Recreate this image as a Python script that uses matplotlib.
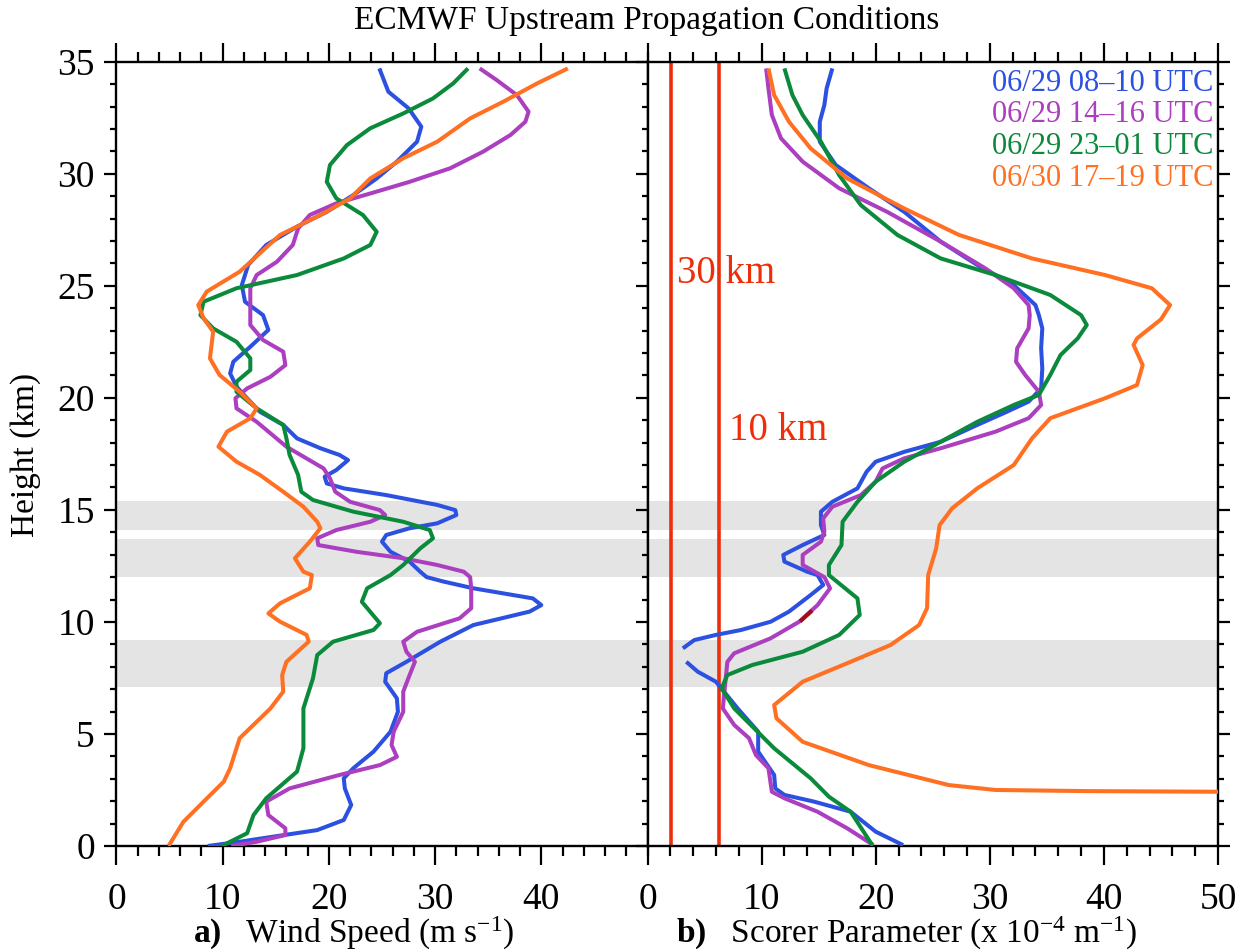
import numpy as np
import matplotlib
matplotlib.use('Agg')
import matplotlib.pyplot as plt
from matplotlib.ticker import MultipleLocator

plt.rcParams['font.family'] = 'Liberation Serif'
plt.rcParams['mathtext.fontset'] = 'custom'
plt.rcParams['mathtext.rm'] = 'Liberation Serif'
plt.rcParams['mathtext.it'] = 'Liberation Serif:italic'
plt.rcParams['mathtext.bf'] = 'Liberation Serif:bold'

labels = ['06/29 08\u201310 UTC', '06/29 14\u201316 UTC',
          '06/29 23\u201301 UTC', '06/30 17\u201319 UTC']
colors = ['#2c50e0', '#ab3fc0', '#0b8a3c', '#ff7022']

# wind speed profiles (m/s) vs height (km)
ws_blue_h = [0.0, 0.19, 0.42, 0.71, 1.16, 1.83, 2.57, 3.02, 3.47, 4.21, 5.10, 5.99, 6.59, 7.33, 7.71,
             8.22, 9.12, 9.86, 10.46, 10.75, 11.05, 11.50, 11.80, 12.0, 12.24, 12.69, 13.13, 13.58,
             13.88, 14.18, 14.40, 14.77, 14.99, 15.22, 15.66, 15.96, 16.18, 16.48, 16.78, 17.22,
             17.45, 17.75, 18.19, 18.79, 19.38, 19.98, 20.50, 21.09, 21.61, 22.28, 23.03, 23.69,
             24.29, 25.03, 25.93, 26.82, 27.64, 28.30, 29.05, 29.79, 30.54, 31.43, 32.10, 32.92,
             33.66, 34.70]
ws_blue = [8.6, 11.6, 14.8, 18.9, 21.4, 22.1, 21.5, 21.4, 22.3, 24.2, 25.8, 26.5, 26.4, 25.3, 25.4,
           27.3, 30.5, 33.6, 38.9, 40.0, 39.2, 33.6, 30.8, 29.2, 28.6, 27.6, 25.8, 25.0,
           25.4, 27.6, 30.2, 32.0, 31.9, 30.2, 25.4, 21.4, 19.8, 19.6, 20.7, 21.8,
           21.0, 19.2, 17.0, 15.7, 13.5, 12.3, 11.3, 10.7, 11.0, 12.6, 14.3, 13.8,
           12.1, 11.8, 12.4, 14.1, 17.0, 19.8, 22.3, 24.5, 26.4, 28.3, 28.7, 27.5,
           25.6, 24.75]

ws_purple_h = [0.0, 0.19, 0.49, 0.79, 1.38, 1.98, 2.57, 3.17, 3.61, 3.98, 4.51, 5.10, 5.99, 6.89,
               7.63, 8.22, 8.67, 9.12, 9.56, 10.16, 10.61, 11.50, 12.0, 12.24, 12.54, 12.84, 13.13,
               13.43, 13.73, 14.10, 14.47, 14.77, 14.99, 15.36, 15.81, 16.41, 16.85, 17.82, 18.93,
               19.53, 19.98, 20.42, 20.94, 21.46, 22.06, 22.58, 23.25, 23.99, 24.89, 25.48, 26.07,
               26.82, 27.56, 28.16, 28.68, 29.12, 29.64, 30.24, 30.98, 31.73, 32.32, 32.77, 33.51,
               34.18, 34.70]
ws_purple = [10.8, 13.2, 15.9, 15.9, 14.3, 14.1, 16.3, 21.0, 24.8, 26.4, 25.9, 26.1, 27.0, 27.0,
             27.6, 28.1, 27.3, 27.0, 28.3, 32.3, 33.4, 33.4, 33.3, 32.7, 30.2, 27.0, 22.6,
             19.0, 18.9, 20.7, 23.9, 25.3, 24.8, 22.0, 20.6, 20.1, 19.5, 16.0, 13.2,
             11.3, 11.2, 12.3, 14.5, 15.9, 15.7, 13.8, 12.6, 12.6, 12.6, 13.2, 15.1,
             16.6, 17.1, 18.2, 20.7, 23.9, 27.6, 31.4, 34.5, 37.1, 38.5, 38.8, 37.7,
             35.8, 34.2]

ws_green_h = [0.0, 0.57, 1.38, 2.13, 3.32, 4.36, 6.14, 7.48, 8.52, 9.12, 9.64, 9.94, 10.90, 11.50,
              12.09, 12.54, 13.28, 13.73, 14.10, 14.47, 14.92, 15.44, 15.81, 16.56, 17.45, 18.19,
              18.79, 19.53, 20.27, 20.72, 21.24, 21.76, 22.50, 23.10, 23.69, 24.29, 24.89, 25.48,
              26.22, 26.82, 27.41, 28.16, 28.90, 29.64, 30.39, 31.28, 32.03, 32.69, 33.36, 34.03,
              34.70]
ws_green = [9.9, 12.3, 12.9, 14.1, 17.0, 17.6, 17.6, 18.5, 18.9, 20.4, 24.2, 24.8, 23.1, 23.6,
            25.8, 27.0, 28.6, 29.8, 29.5, 27.0, 22.3, 18.5, 17.4, 17.1, 16.3, 16.0,
            15.7, 13.2, 11.3, 11.3, 12.6, 12.6, 11.3, 9.1, 7.9, 8.2, 11.3, 17.0,
            21.4, 23.9, 24.5, 23.2, 20.7, 19.8, 20.1, 21.7, 23.9, 27.0, 29.8, 31.7,
            33.1]

ws_orange_h = [0.0, 1.08, 1.98, 2.87, 3.47, 4.81, 6.14, 6.89, 7.63, 8.22, 9.12, 9.42, 10.01, 10.38,
               10.83, 11.50, 12.09, 12.24, 12.84, 13.58, 14.18, 14.47, 15.14, 15.81, 16.56, 17.15,
               17.82, 18.49, 19.09, 19.53, 20.27, 21.02, 21.76, 22.95, 23.55, 24.14, 24.74, 25.63,
               27.27, 28.16, 28.90, 29.79, 30.69, 31.43, 32.47, 33.21, 34.03, 34.70]
ws_orange = [4.9, 6.3, 8.2, 10.1, 10.7, 11.6, 14.5, 15.7, 15.6, 16.0, 18.1, 17.9, 15.4, 14.3,
             15.4, 18.2, 18.4, 17.6, 16.8, 18.2, 19.2, 18.9, 17.6, 15.7, 13.5, 11.3,
             9.6, 10.4, 12.6, 13.2, 11.6, 9.7, 8.8, 9.1, 8.2, 7.7, 8.5, 11.6,
             15.4, 19.2, 22.0, 23.9, 27.0, 30.2, 33.3, 36.4, 39.6, 42.5]

# Scorer parameter profiles (1e-4 1/m) vs height (km)
sc_blue_h = [0.04, 0.64, 1.53, 1.98, 2.28, 2.57, 3.17, 4.21, 5.10, 6.14, 7.33, 7.78, 8.22, 8.5,
             8.82, 9.19, 9.42, 9.64, 10.01, 10.46, 11.20, 11.65, 12.09, 12.24, 12.69, 12.99, 13.43,
             13.88, 14.32, 14.92, 15.36, 15.96, 16.70, 17.15, 17.59, 18.04, 18.79, 19.38, 19.83,
             20.42, 21.32, 22.21, 23.10, 23.69, 24.14, 25.03, 25.93, 26.97, 28.30, 29.35, 30.39,
             31.43, 32.32, 33.07, 33.81, 34.70]
sc_blue = [22.4, 20.0, 17.8, 14.6, 12.0, 11.2, 11.1, 9.7, 9.7, 7.9, 6.0, 4.4, 3.4, np.nan,
           3.1, 4.1, 6.0, 8.2, 10.8, 12.4, 14.3, 15.4, 14.9, 14.0, 12.0, 11.9, 13.6,
           15.5, 15.2, 15.2, 16.2, 18.4, 19.2, 20.0, 22.5, 25.7, 28.9, 31.5, 33.4,
           34.5, 34.6, 34.5, 34.6, 34.3, 34.0, 32.1, 28.9, 25.7, 22.5, 19.4, 16.5,
           15.1, 15.1, 15.5, 15.7, 16.2]

sc_purple_h = [0.04, 0.79, 1.53, 2.13, 2.42, 3.47, 4.06, 4.81, 5.40, 6.14, 7.18, 8.22, 8.60, 9.27,
               10.01, 10.75, 11.50, 12.0, 12.54, 12.99, 13.58, 14.03, 14.62, 15.14, 15.66, 16.26,
               16.85, 17.30, 17.75, 18.49, 19.09, 19.68, 20.27, 21.02, 21.61, 22.21, 23.10, 23.69,
               24.14, 24.89, 25.78, 26.97, 28.30, 29.35, 30.54, 31.58, 32.62, 33.81, 34.70]
sc_purple = [19.8, 17.5, 14.9, 12.0, 10.9, 10.6, 9.5, 8.9, 7.6, 6.6, 6.8, 7.0, 7.6, 10.8,
             13.3, 14.9, 16.0, 15.5, 13.6, 13.6, 15.2, 15.5, 15.4, 16.2, 18.7, 20.0,
             20.6, 22.5, 25.7, 30.5, 33.4, 34.5, 34.3, 33.1, 32.3, 32.4, 33.4, 33.5,
             33.4, 32.1, 29.6, 25.7, 21.0, 16.8, 13.6, 11.7, 10.9, 10.6, 10.4]
purple_seg_h = [10.08, 10.45]
purple_seg = [13.5, 14.3]

sc_green_h = [0.04, 1.53, 2.20, 3.02, 4.36, 6.14, 7.04, 7.63, 8.08, 8.67, 9.42, 10.31, 11.05, 12.09,
              12.54, 13.43, 14.47, 15.36, 16.26, 17.15, 18.04, 18.93, 19.68, 20.13, 21.02, 21.91,
              22.65, 23.25, 23.69, 24.59, 25.48, 26.22, 27.27, 28.60, 29.94, 31.43, 32.62, 33.51,
              34.70]
sc_green = [19.7, 17.8, 15.9, 14.3, 11.1, 7.6, 6.5, 7.0, 9.2, 13.6, 16.8, 18.6, 18.4, 15.9,
            15.9, 17.0, 17.1, 18.4, 20.0, 22.5, 25.7, 28.9, 32.1, 34.3, 35.3, 36.2,
            37.7, 38.5, 38.0, 35.3, 30.5, 25.7, 21.9, 18.7, 16.8, 15.2, 13.6, 12.7,
            12.0]

sc_orange_h = [2.42, 2.45, 2.50, 2.72, 3.61, 4.65, 5.70, 6.29, 7.33, 8.22, 8.97, 9.86, 10.61, 12.09,
               13.28, 14.32, 15.07, 15.96, 17.00, 18.19, 19.09, 19.98, 20.57, 21.46, 22.36, 22.65,
               23.5, 24.14, 24.89, 25.48, 26.22, 27.27, 28.45, 29.79, 31.13, 32.32, 33.51, 34.70]
sc_orange = [50.5, 38.5, 30.5, 26.4, 19.4, 13.6, 11.3, 11.1, 13.6, 17.8, 21.3, 23.8, 24.5, 24.6,
             25.3, 25.6, 26.7, 28.9, 32.1, 33.7, 35.3, 40.1, 42.9, 43.4, 42.6, 42.9,
             45.0, 45.8, 44.2, 40.1, 33.7, 27.3, 22.5, 17.5, 14.3, 12.4, 11.1, 10.6]

# shaded layers (km)
bands = [(14.1, 15.4), (12.0, 13.7), (7.1, 9.2)]

# horizontal wavelengths marked in panel b (km)
wavelengths = [30, 10]
wl_text_x = [2.6, 7.1]
wl_text_h = [25.57, 18.56]

ws_data = [(ws_blue, ws_blue_h), (ws_purple, ws_purple_h),
           (ws_green, ws_green_h), (ws_orange, ws_orange_h)]
sc_data = [(sc_blue, sc_blue_h), (sc_purple, sc_purple_h),
           (sc_green, sc_green_h), (sc_orange, sc_orange_h)]

W, H = 1244, 951
fig = plt.figure(figsize=(W / 100, H / 100), dpi=100)
ax1 = fig.add_axes([116.5 / W, 105 / H, 531 / W, 784.3 / H])
ax2 = fig.add_axes([647.5 / W, 105 / H, 570.5 / W, 784.3 / H])

lw = 2.9
for ax, data in ((ax1, ws_data), (ax2, sc_data)):
    for lo, hi in bands:
        ax.axhspan(lo, hi, color='#e4e4e4', lw=0, zorder=0)
    for (x, h), c in zip(data, colors):
        ax.plot(x, h, color=c, lw=lw, solid_capstyle='butt',
                solid_joinstyle='round', zorder=3)

ax2.plot(purple_seg, purple_seg_h, color='#a01010', lw=lw, zorder=4)

red = '#ee2e0a'
for lam, tx, th in zip(wavelengths, wl_text_x, wl_text_h):
    ax2.axvline(2 * np.pi / lam * 10, color=red, lw=2.6, zorder=2)
    ax2.text(tx, th, f'{lam} km', color=red, fontsize=28, ha='left', va='center')

for i, (lab, c) in enumerate(zip(labels, colors)):
    ax2.text(49.6, 34.04 - 1.415 * i, lab, color=c, fontsize=22, ha='right', va='center')

ax1.set_xlim(0, 50)
ax2.set_xlim(0, 50)
for ax in (ax1, ax2):
    ax.set_ylim(0, 35)
    ax.yaxis.set_major_locator(MultipleLocator(5))
    ax.yaxis.set_minor_locator(MultipleLocator(1))
    ax.xaxis.set_minor_locator(MultipleLocator(2))
    for s in ax.spines.values():
        s.set_linewidth(1.7)
    ax.tick_params(axis='x', which='major', direction='out', length=14, width=1.6,
                   top=True, bottom=True, labelsize=27, pad=12)
    ax.tick_params(axis='x', which='minor', direction='out', length=7, width=1.6,
                   top=True, bottom=True)
    ax.tick_params(axis='y', which='major', direction='out', length=8.6, width=1.6,
                   labelsize=27, pad=7)
    ax.tick_params(axis='y', which='minor', direction='out', length=4.3, width=1.6)

ax1.set_xticks([0, 10, 20, 30, 40])
ax1.tick_params(axis='y', which='both', left=True, right=False)
ax2.set_xticks([0, 10, 20, 30, 40, 50])
ax2.tick_params(axis='y', which='both', left=True, right=True, labelleft=False)

fig.text(647 / W, 1 - 21 / H, 'ECMWF Upstream Propagation Conditions',
         ha='center', va='center', fontsize=24)
fig.text(26 / W, 1 - 455 / H, 'Height (km)', rotation=90,
         ha='center', va='center', fontsize=24)
fig.text(354 / W, 1 - 943 / H, r'$\mathbf{a)}$   Wind Speed (m s$^{-1}$)',
         ha='center', va='baseline', fontsize=24)
fig.text(907 / W, 1 - 943 / H, r'$\mathbf{b)}$   Scorer Parameter (x 10$^{-4}$ m$^{-1}$)',
         ha='center', va='baseline', fontsize=24)

fig.savefig('out.png', dpi=100)
